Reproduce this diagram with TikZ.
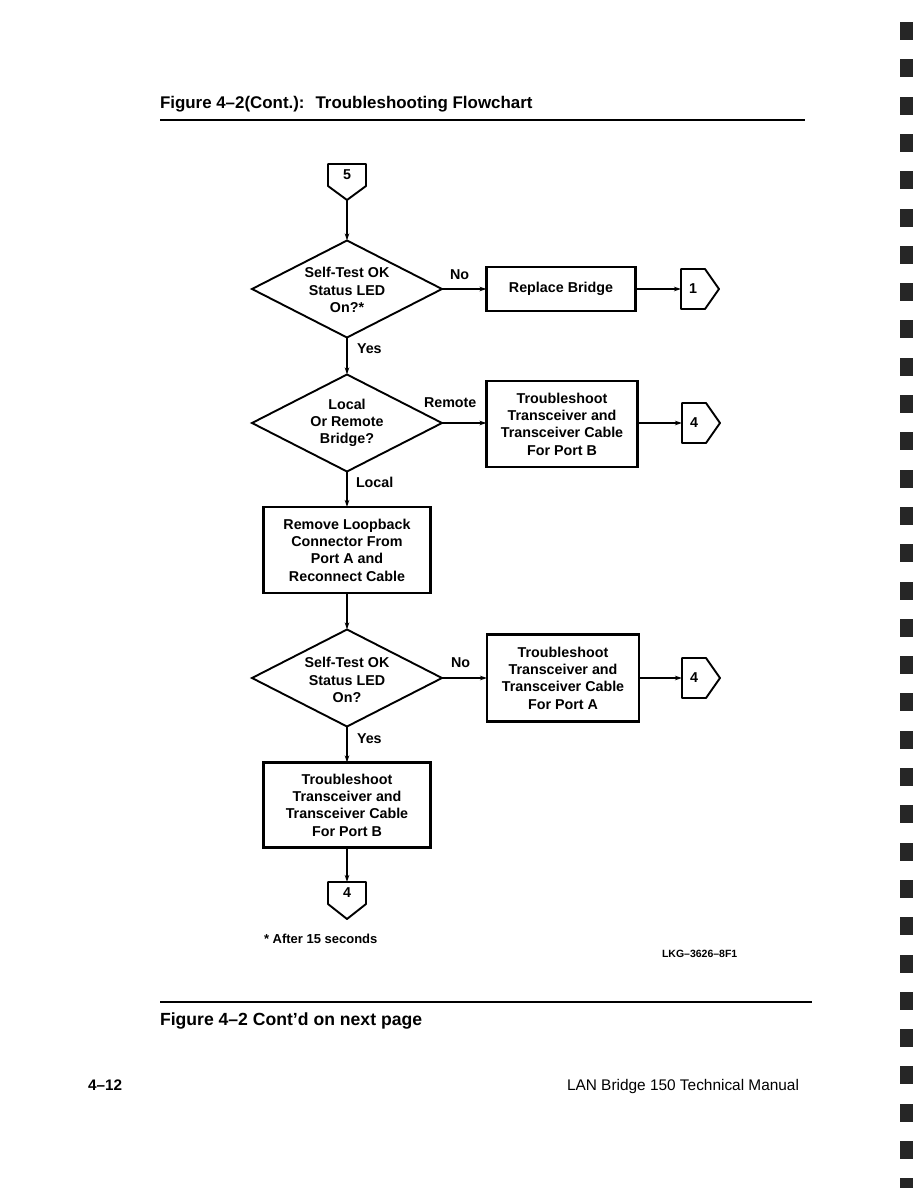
\documentclass[tikz,border=0pt]{standalone}
\usepackage{fontspec}
\setmainfont{Liberation Sans}
\usetikzlibrary{arrows.meta,calc,shapes.geometric}
\begin{document}
\begin{tikzpicture}[x=1pt,y=-1pt,
  every node/.style={font=\bfseries\fontsize{14.3}{17.3}\selectfont, inner sep=0pt, outer sep=0pt},
  box/.style={draw, line width=2.4pt, rectangle, align=center},
  dia/.style={draw, line width=1.9pt, diamond, minimum width=190pt, minimum height=97pt},
  dtext/.style={align=center},
  cbody/.style={minimum width=38pt, minimum height=22pt},
  rbody/.style={minimum width=24pt, minimum height=40pt},
  cline/.style={line width=1.9pt, line join=round},
  flow/.style={line width=1.4pt, -{Stealth[length=7pt,width=4.5pt]}},
  lab/.style={anchor=base west},
  rule/.style={line width=2.2pt},
  sq/.style={fill=black!85}
]
\useasboundingbox (0,0) rectangle (918,1188);

% page edge marks
\foreach \i in {0,...,31} \fill[sq] (900,{22+37.3*\i}) rectangle ++(13,18);

% header
\node[anchor=base west, font=\bfseries\fontsize{16.9}{20}\selectfont] (title) at (160,109) {Figure 4--2(Cont.):\hspace{0.65em}Troubleshooting Flowchart};
\coordinate (hr1a) at (160,120); \coordinate (hr1b) at (805,120);
\draw[rule] (hr1a) -- (hr1b);

% connector 5
\node[cbody] (c5) at (347,175) {5};
\coordinate (c5tip) at ($(c5.south)+(0,14)$);
\draw[cline] (c5.south west) -- (c5.north west) -- (c5.north east) -- (c5.south east) -- (c5tip) -- cycle;

% diamond 1
\node[dia] (d1) at (347,289) {};
\node[dtext] (d1t) at (347,290) {Self-Test OK\\Status LED\\On?*};
\draw[flow] (c5tip) -- (d1.north);

\node[box, minimum width=149pt, minimum height=44pt] (rb) at (561,289) {Replace Bridge};
\draw[flow] (d1.east) -- (rb.west);
\node[lab] (no1) at (450,279) {No};

\node[rbody] (c1) at (693,289) {1};
\coordinate (c1tip) at ($(c1.east)+(14,0)$);
\draw[cline] (c1.north east) -- (c1.north west) -- (c1.south west) -- (c1.south east) -- (c1tip) -- cycle;
\draw[flow] (rb.east) -- (c1.west);

% diamond 2
\node[dia] (d2) at (347,423) {};
\node[dtext] (d2t) at (347,423) {Local\\Or Remote\\Bridge?};
\draw[flow] (d1.south) -- (d2.north);
\node[lab] (yes1) at (357,353) {Yes};

\node[box, minimum width=151pt, minimum height=86pt] (tb1) at (562,424) {Troubleshoot\\Transceiver and\\Transceiver Cable\\For Port B};
\draw[flow] (d2.east) -- (tb1.west |- d2.east);
\node[lab] (remote) at (424,407) {Remote};

\node[rbody] (c4a) at (694,423) {4};
\coordinate (c4atip) at ($(c4a.east)+(14,0)$);
\draw[cline] (c4a.north east) -- (c4a.north west) -- (c4a.south west) -- (c4a.south east) -- (c4atip) -- cycle;
\draw[flow] (tb1.east |- c4a.west) -- (c4a.west);

% remove loopback box
\node[box, minimum width=167pt, minimum height=86pt] (rl) at (347,550) {Remove Loopback\\Connector From\\Port A and\\Reconnect Cable};
\draw[flow] (d2.south) -- (rl.north);
\node[lab] (local) at (356,487) {Local};

% diamond 3
\node[dia] (d3) at (347,678) {};
\node[dtext] (d3t) at (347,680) {Self-Test OK\\Status LED\\On?};
\draw[flow] (rl.south) -- (d3.north);

\node[box, minimum width=152pt, minimum height=87pt] (tb2) at (563,678) {Troubleshoot\\Transceiver and\\Transceiver Cable\\For Port A};
\draw[flow] (d3.east) -- (tb2.west |- d3.east);
\node[lab] (no2) at (451,667) {No};

\node[rbody] (c4b) at (694,678) {4};
\coordinate (c4btip) at ($(c4b.east)+(14,0)$);
\draw[cline] (c4b.north east) -- (c4b.north west) -- (c4b.south west) -- (c4b.south east) -- (c4btip) -- cycle;
\draw[flow] (tb2.east |- c4b.west) -- (c4b.west);

% lower box
\node[box, minimum width=167pt, minimum height=85pt] (tb3) at (347,805) {Troubleshoot\\Transceiver and\\Transceiver Cable\\For Port B};
\draw[flow] (d3.south) -- (tb3.north);
\node[lab] (yes2) at (357,743) {Yes};

% connector 4 bottom
\node[cbody] (c4c) at (347,893) {4};
\coordinate (c4ctip) at ($(c4c.south)+(0,15)$);
\draw[cline] (c4c.south west) -- (c4c.north west) -- (c4c.north east) -- (c4c.south east) -- (c4ctip) -- cycle;
\draw[flow] (tb3.south) -- (c4c.north);

% footnote
\node[anchor=base west, font=\bfseries\fontsize{13}{15}\selectfont] (fn) at (264,943) {* After 15 seconds};
\node[anchor=base west, font=\bfseries\fontsize{10.5}{12}\selectfont] (lkg) at (662,957) {LKG--3626--8F1};

% bottom rule
\coordinate (hr2a) at (160,1002); \coordinate (hr2b) at (812,1002);
\draw[line width=1.8pt] (hr2a) -- (hr2b);
\node[anchor=base west, font=\bfseries\fontsize{17.6}{20}\selectfont] (cont) at (160,1025) {Figure 4--2 Cont'd on next page};

% footer
\node[anchor=base west, font=\bfseries\fontsize{15.3}{18}\selectfont] (pg) at (88,1090) {4--12};
\node[anchor=base east, font=\fontsize{15.4}{18}\selectfont] (man) at (799,1090) {LAN Bridge 150 Technical Manual};
\end{tikzpicture}
\end{document}
